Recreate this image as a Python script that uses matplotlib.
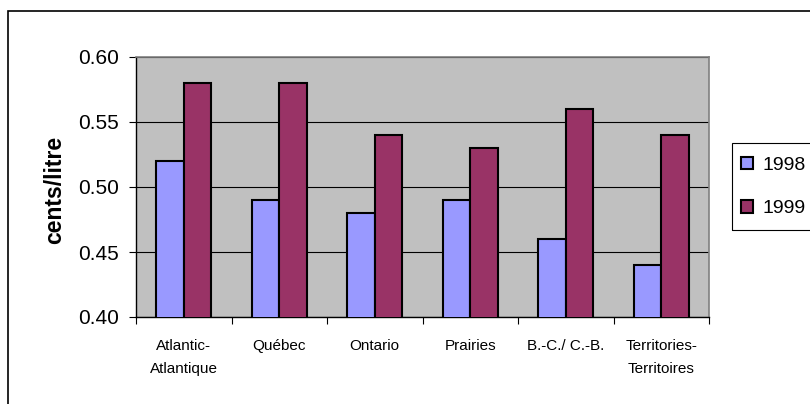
import numpy as np
import matplotlib.pyplot as plt
from matplotlib.patches import Rectangle

regions = ["Atlantic-\nAtlantique", "Québec", "Ontario", "Prairies",
           "B.-C./ C.-B.", "Territories-\nTerritoires"]
years = ["1998", "1999"]
price_1998 = [0.52, 0.49, 0.48, 0.49, 0.46, 0.44]
price_1999 = [0.58, 0.58, 0.54, 0.53, 0.56, 0.54]
yticks = [0.40, 0.45, 0.50, 0.55, 0.60]

plt.rcParams['font.family'] = ['Liberation Sans', 'DejaVu Sans']

fig = plt.figure(figsize=(8.1, 4.04), dpi=100)
ax = fig.add_axes([136 / 810, 1 - 317 / 404, 573 / 810, 260 / 404])

# outer chart frame (runs off the right and bottom of the image)
fig.patches.append(Rectangle((8 / 810, -0.1), 1.2, 1 - 11 / 404 + 0.1,
                             transform=fig.transFigure, fill=False,
                             edgecolor="black", linewidth=1.2))
# legend box, also cut by the right edge
fig.patches.append(Rectangle((732 / 810, 1 - 230 / 404), 0.2, 87 / 404,
                             transform=fig.transFigure, fill=False,
                             edgecolor="black", linewidth=0.8))

x = np.arange(len(regions))
w = 0.29
ax.set_facecolor("#C0C0C0")
ax.bar(x - w / 2, price_1998, w, bottom=0, color="#9999FF",
       edgecolor="black", linewidth=1.5, label=years[0], zorder=3)
ax.bar(x + w / 2, price_1999, w, bottom=0, color="#993366",
       edgecolor="black", linewidth=1.5, label=years[1], zorder=3)

ax.set_xlim(-0.5, len(regions) - 0.5)
ax.set_ylim(0.40, 0.60)
ax.set_yticks(yticks)
ax.set_yticklabels([f"{v:.2f}" for v in yticks], fontsize=15)
ax.yaxis.grid(True, color="black", linewidth=0.8, zorder=1)

ax.set_xticks(np.arange(len(regions) + 1) - 0.5)
ax.set_xticklabels([])
ax.set_xticks(x, minor=True)
ax.set_xticklabels(regions, minor=True, fontsize=11, linespacing=1.9,
                   va="top")
ax.tick_params(axis="x", which="minor", length=0, pad=15.5)
ax.tick_params(axis="x", which="major", length=5, direction="out")
ax.tick_params(axis="y", length=5, direction="out", pad=7)

for side in ["top", "right"]:
    ax.spines[side].set_color("#808080")
    ax.spines[side].set_linewidth(1.2)
ax.spines["left"].set_linewidth(1.0)
ax.spines["bottom"].set_linewidth(1.0)

fig.text(55 / 810, 1 - 190 / 404, "cents/litre", rotation=90,
         fontsize=16.5, fontweight="bold", ha="center", va="center")

leg = ax.legend(loc="center left", bbox_to_anchor=(732 / 810, 1 - 187 / 404),
                bbox_transform=fig.transFigure, borderaxespad=0,
                fontsize=14, frameon=False, handlelength=0.62,
                handleheight=0.62, handletextpad=0.5, borderpad=0.45,
                labelspacing=1.35)

fig.savefig("out.png", dpi=100)
